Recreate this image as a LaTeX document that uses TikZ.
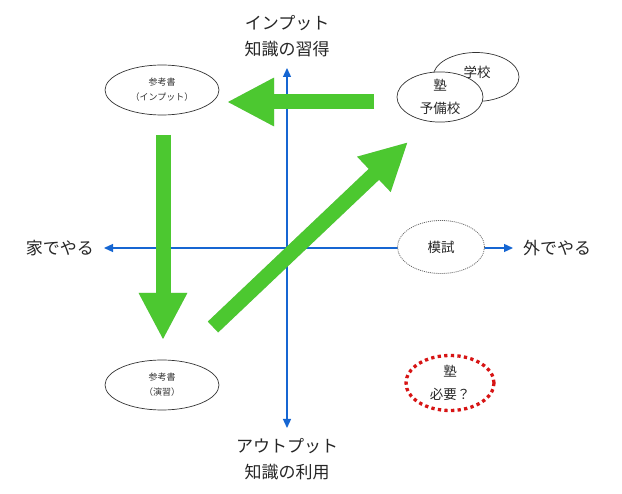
\documentclass[tikz,border=0pt]{standalone}
\usepackage{fontspec}
\setmainfont{Noto Sans CJK JP}
\usetikzlibrary{arrows.meta,shapes.geometric}
\definecolor{axblue}{RGB}{22,102,210}
\definecolor{bgreen}{RGB}{76,200,48}
\definecolor{dotred}{RGB}{215,20,20}
\begin{document}
\begin{tikzpicture}[x=1pt,y=-1pt,
  axis/.style={draw=axblue,line width=1.3pt,{Triangle[length=9pt,width=8pt]}-{Triangle[length=9pt,width=8pt]}},
  biglabel/.style={font=\fontsize{17pt}{26pt}\selectfont,align=center,text=black!85,inner sep=0pt},
  oval/.style={ellipse,draw=black!80,line width=0.7pt,fill=white,inner sep=0pt},
  smalltxt/.style={font=\fontsize{9pt}{15pt}\selectfont,align=center,text=black!80},
  midtxt/.style={font=\fontsize{13.5pt}{23pt}\selectfont,align=center,text=black!85},
  garrow/.style={draw=bgreen,line width=15pt,-{Triangle[length=47pt,width=45pt]}},
  gshadow/.style={draw=black,opacity=0.18,line width=15pt,-{Triangle[length=47pt,width=45pt]}}
]
\useasboundingbox (0,0) rectangle (622,494);
% axes
\coordinate (top) at (287,68);
\coordinate (bot) at (287,428);
\coordinate (lft) at (104,248);
\coordinate (rgt) at (513,248);
\draw[axis] (bot) -- (top);
\draw[axis] (lft) -- (rgt);
% axis labels
\node[biglabel] (tl) at (287,36) {インプット\\知識の習得};
\node[biglabel] (bl) at (287,459) {アウトプット\\知識の利用};
\node[biglabel] (ll) at (60,248) {家でやる};
\node[biglabel] (rl) at (557,248) {外でやる};
% ovals
\node[oval,minimum width=114pt,minimum height=50pt,smalltxt] (ref1) at (162,90) {参考書\\（インプット）};
\node[oval,minimum width=114pt,minimum height=50pt,smalltxt] (ref2) at (162,385) {参考書\\（演習）};
\node[oval,minimum width=86pt,minimum height=49pt] (school) at (476,77) {};
\node[midtxt] (schooltxt) at (477,72) {学校};
\node[oval,minimum width=86pt,minimum height=44pt,midtxt] (juku) at (440,97) {塾\\予備校};
\node[ellipse,draw=black!60,line width=0.8pt,dash pattern=on 1pt off 1pt,fill=white,
      minimum width=87pt,minimum height=53pt,inner sep=0pt,midtxt] (moshi) at (441,247) {模試};
\node[ellipse,draw=dotred,line width=3.3pt,dash pattern=on 3.3pt off 3.3pt,
      minimum width=88pt,minimum height=55pt,inner sep=0pt,midtxt] (need) at (450,383) {塾\\必要？};
% green arrows
\coordinate (a1s) at (374,102);
\coordinate (a1e) at (227,102);
\coordinate (a2s) at (163,135);
\coordinate (a2e) at (163,340);
\coordinate (a3s) at (213,327);
\coordinate (a3e) at (408,142);
\begin{scope}[shift={(1.5,1.5)}]
\draw[gshadow] (a1s) -- (a1e);
\draw[gshadow] (a2s) -- (a2e);
\draw[gshadow] (a3s) -- (a3e);
\end{scope}
\draw[garrow] (a1s) -- (a1e);
\draw[garrow] (a2s) -- (a2e);
\draw[garrow] (a3s) -- (a3e);
\end{tikzpicture}
\end{document}
